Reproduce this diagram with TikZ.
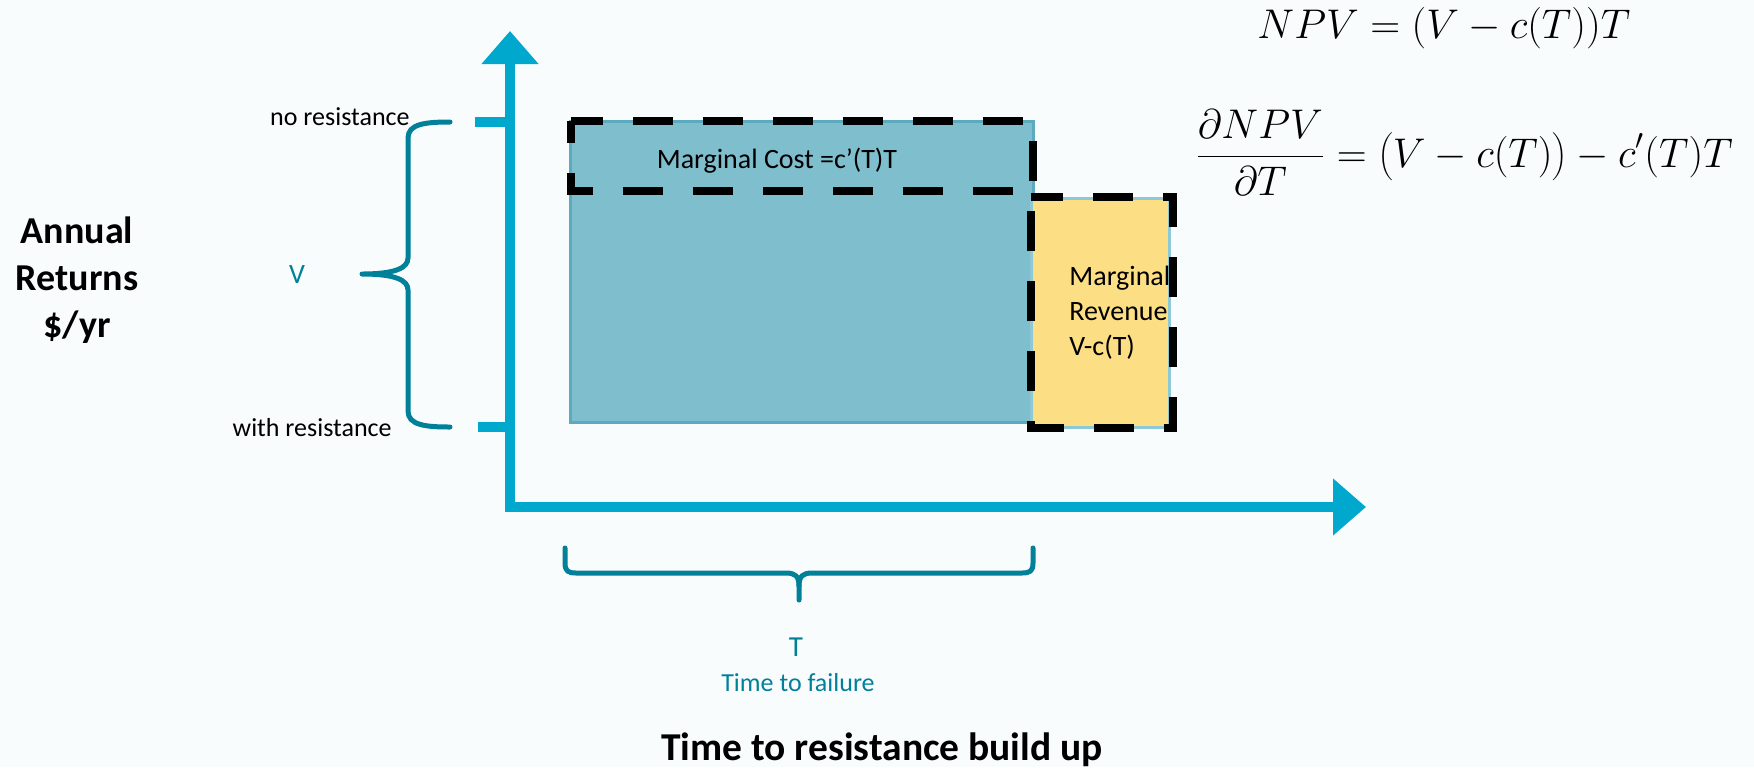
\documentclass[tikz,border=0pt]{standalone}
\usepackage{fontspec}
\setmainfont{Carlito}
\usetikzlibrary{arrows.meta}

\definecolor{axiscyan}{RGB}{0,168,206}
\definecolor{braceteal}{RGB}{0,128,153}
\definecolor{costblue}{RGB}{127,190,204}
\definecolor{costedge}{RGB}{92,170,190}
\definecolor{revyellow}{RGB}{252,223,132}
\definecolor{revedge}{RGB}{140,200,214}
\definecolor{paper}{RGB}{249,252,253}

\tikzset{
  axisline/.style={draw=axiscyan, line width=5pt, -{Triangle[length=16.5pt,width=27.5pt]}},
  tickline/.style={draw=axiscyan, line width=5pt},
  braceline/.style={draw=braceteal, line width=2.5pt, line cap=round, line join=round},
  dashbox/.style={draw=black, line width=4pt, dash pattern=on 20pt off 15pt},
  smalltxt/.style={inner sep=0pt, font=\fontsize{13}{15}\selectfont},
  boxtxt/.style={inner sep=0pt, font=\fontsize{14}{17.5}\selectfont},
  tealtxt/.style={inner sep=0pt, text=braceteal},
  boldtxt/.style={inner sep=0pt, font=\fontsize{19}{23.5}\selectfont\bfseries},
  eqtxt/.style={inner sep=0pt, font=\fontsize{20.74}{26}\selectfont},
}

\begin{document}
\begin{tikzpicture}[x=0.5pt,y=-0.5pt]
  % page
  \fill[paper] (0,0) rectangle (1754,767);
  \useasboundingbox (0,0) rectangle (1754,767);

  % axis end points
  \coordinate (origin-v) at (510,512);
  \coordinate (ytip) at (510,31);
  \coordinate (origin-h) at (505,507);
  \coordinate (xtip) at (1366,507);

  % cost area and revenue strip
  \fill[costblue, draw=costedge, line width=1.5pt] (570,121) rectangle (1033,422);
  \fill[revyellow, draw=revedge, line width=1.5pt] (1031,198) rectangle (1169,427);

  % dashed outlines
  \draw[dashbox, dash phase=4pt] (571,121) -- (1033,121) -- (1033,191) -- (571,191) -- cycle;
  \draw[dashbox, dash phase=4pt] (1031,197) -- (1173,197) -- (1173,428) -- (1031,428) -- cycle;

  % axes
  \draw[axisline] (origin-v) -- (ytip);
  \draw[axisline] (origin-h) -- (xtip);

  % level ticks on the vertical axis
  \coordinate (tick-hi) at (475,122);
  \coordinate (tick-lo) at (478,427);
  \draw[tickline] (tick-hi) -- (tick-hi -| origin-v);
  \draw[tickline] (tick-lo) -- (tick-lo -| origin-v);

  % brace spanning V
  \coordinate (vb-top) at (450,122);
  \coordinate (vb-tip) at (362,274);
  \coordinate (vb-bot) at (450,427);
  \draw[braceline] (vb-top) .. controls (425,122) and (408,124) .. (408,138)
    -- (408,258) .. controls (408,268) and (395,274) .. (vb-tip)
    .. controls (395,274) and (408,280) .. (408,290)
    -- (408,411) .. controls (408,425) and (425,427) .. (vb-bot);

  % brace spanning T
  \coordinate (tb-left) at (565,548);
  \coordinate (tb-tip) at (799,600);
  \coordinate (tb-right) at (1033,548);
  \draw[braceline] (tb-left) -- (565,563) .. controls (565,571) and (568,573) .. (576,573)
    -- (786,573) .. controls (795,573) and (799,576) .. (799,586) -- (tb-tip);
  \draw[braceline] (799,586) .. controls (799,576) and (803,573) .. (812,573)
    -- (1022,573) .. controls (1030,573) and (1033,571) .. (1033,563) -- (tb-right);

  % labels
  \node[smalltxt, anchor=east] (nores) at (410,117) {no resistance};
  \node[smalltxt, anchor=east] (withres) at (392,428) {with resistance};
  \node[tealtxt, font=\fontsize{14}{17}\selectfont] (vlab) at (297,275) {V};
  \node[boldtxt, align=center] (ylab) at (77,280) {Annual\\Returns\\\$/yr};

  \node[boxtxt] (mc) at (777,161) {Marginal Cost =c’(T)T};
  \node[boxtxt, align=left, anchor=west] (mr) at (1069,313) {Marginal\\Revenue\\V-c(T)};

  \node[tealtxt, font=\fontsize{14.5}{17}\selectfont] (tlab) at (796,647) {T};
  \node[tealtxt, font=\fontsize{13}{15}\selectfont] (ttf) at (798,683) {Time to failure};
  \node[inner sep=0pt, font=\fontsize{19.75}{24}\selectfont\bfseries, anchor=base] (xlab) at (882,760) {Time to resistance build up};

  % equations
  \node[eqtxt, anchor=base west] (npv) at (1257,38) {$NPV=(V-c(T))T$};
  \node[eqtxt, anchor=base west] (dnpv) at (1195,167)
    {$\displaystyle\frac{\partial NPV}{\partial T}=\left(\vrule height 17pt depth 8pt width 0pt V-c(T)\right)-c'(T)T$};
\end{tikzpicture}
\end{document}
